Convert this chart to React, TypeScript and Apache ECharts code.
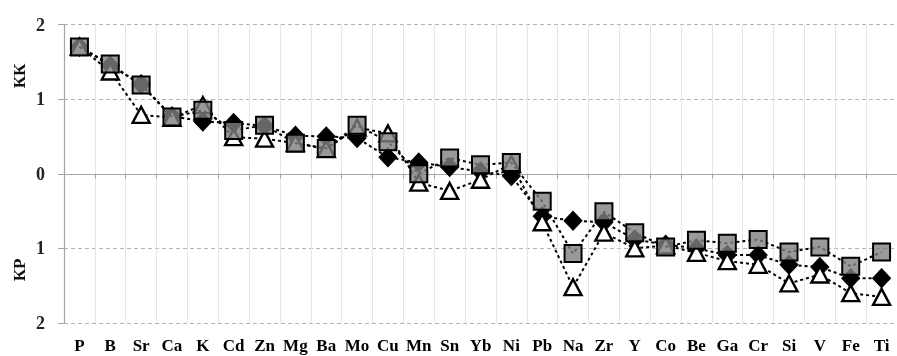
import React, { useEffect, useRef } from "react";
import * as echarts from "echarts";

const categories = ["P", "B", "Sr", "Ca", "K", "Cd", "Zn", "Mg", "Ba", "Mo", "Cu", "Mn", "Sn", "Yb", "Ni", "Pb", "Na", "Zr", "Y", "Co", "Be", "Ga", "Cr", "Si", "V", "Fe", "Ti"];

const diamondValues = [1.70, 1.45, 1.20, 0.77, 0.70, 0.68, 0.64, 0.51, 0.50, 0.48, 0.22, 0.15, 0.09, 0.03, -0.03, -0.57, -0.63, -0.65, -0.88, -0.95, -1.00, -1.09, -1.09, -1.22, -1.25, -1.40, -1.40];
const squareValues = [1.70, 1.47, 1.19, 0.76, 0.85, 0.58, 0.65, 0.41, 0.34, 0.65, 0.43, 0.00, 0.21, 0.12, 0.15, -0.37, -1.07, -0.51, -0.79, -0.98, -0.89, -0.93, -0.88, -1.05, -0.98, -1.24, -1.05];
const triangleValues = [1.70, 1.37, 0.79, 0.75, 0.92, 0.49, 0.47, 0.41, 0.33, 0.62, 0.54, -0.12, -0.23, -0.08, 0.13, -0.65, -1.52, -0.79, -1.00, -0.96, -1.06, -1.17, -1.22, -1.47, -1.35, -1.60, -1.65];

const yTicks = [-2, -1, 0, 1, 2];
const upperName = "КК";
const lowerName = "КР";

const FONT = "'Liberation Serif', 'Times New Roman', serif";

export default function App() {
  const ref = useRef<HTMLDivElement>(null);
  useEffect(() => {
    if (!ref.current) return;
    const chart = echarts.init(ref.current, null, { renderer: "svg" });
    const dashedLine = { type: [3, 3], color: "#000", width: 2 };
    chart.setOption({
      animation: false,
      grid: { left: 64, right: -4, top: 24.5, bottom: 33, containLabel: false },
      xAxis: [
        {
          type: "category",
          data: categories,
          position: "bottom",
          axisLine: { show: false, onZero: false },
          axisTick: { show: false },
          axisLabel: { interval: 0, margin: 14, fontFamily: FONT, fontWeight: "bold", fontSize: 17, color: "#000" },
          splitLine: { show: true, interval: 0, lineStyle: { color: "#e6e6e6", width: 1 } },
        },
        {
          type: "category",
          data: categories,
          position: "top",
          axisLine: { show: true, onZero: true, lineStyle: { color: "#a6a6a6", width: 1.2 } },
          axisTick: { show: true, inside: true, length: 5, interval: 0, lineStyle: { color: "#a6a6a6" } },
          axisLabel: { show: false },
          splitLine: { show: false },
        },
      ],
      yAxis: {
        type: "value",
        min: yTicks[0],
        max: yTicks[yTicks.length - 1],
        interval: 1,
        axisLine: { show: true, lineStyle: { color: "#a6a6a6", width: 1.2 } },
        axisTick: { show: true, length: 6, lineStyle: { color: "#a6a6a6" } },
        axisLabel: {
          margin: 19,
          fontFamily: FONT,
          fontWeight: "bold",
          fontSize: 18,
          color: "#222",
          formatter: (v: number) => String(Math.abs(v)),
        },
        splitLine: { show: true, lineStyle: { color: "#b3b3b3", type: [4, 3], width: 1 } },
      },
      graphic: [
        {
          type: "text",
          x: 19,
          y: 76,
          rotation: Math.PI / 2,
          style: { text: upperName, font: `bold 17px ${FONT}`, fill: "#111", align: "center", verticalAlign: "middle" },
        },
        {
          type: "text",
          x: 19,
          y: 270,
          rotation: Math.PI / 2,
          style: { text: lowerName, font: `bold 17px ${FONT}`, fill: "#111", align: "center", verticalAlign: "middle" },
        },
      ],
      series: [
        {
          name: "diamond",
          type: "line",
          data: diamondValues,
          symbol: "diamond",
          symbolSize: [18, 19],
          itemStyle: { color: "#000", borderColor: "#000", borderWidth: 1 },
          lineStyle: dashedLine,
          z: 2,
        },
        {
          name: "triangle",
          type: "line",
          data: triangleValues,
          symbol: "triangle",
          symbolSize: [17, 16],
          itemStyle: { color: "#fff", borderColor: "#000", borderWidth: 2.4 },
          lineStyle: dashedLine,
          z: 3,
        },
        {
          name: "square",
          type: "line",
          data: squareValues,
          symbol: "rect",
          symbolSize: 17,
          itemStyle: { color: "rgba(128,128,128,0.8)", borderColor: "#000", borderWidth: 2 },
          lineStyle: dashedLine,
          z: 4,
        },
      ],
    });
    return () => chart.dispose();
  }, []);
  return <div ref={ref} style={{ position: "fixed", left: 0, top: 0, width: 897, height: 356 }} />;
}
